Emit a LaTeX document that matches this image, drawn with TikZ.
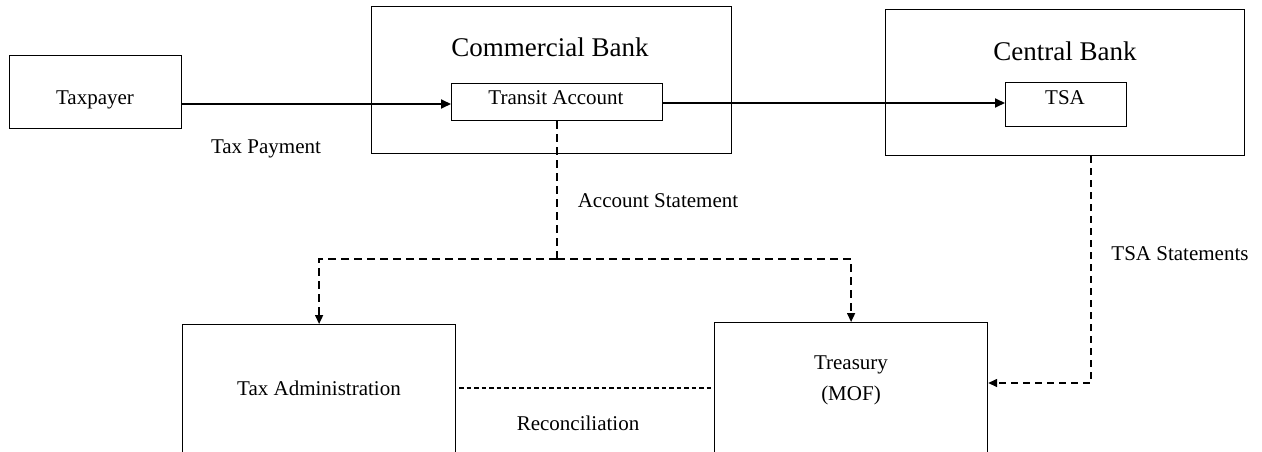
\documentclass[tikz,border=0pt]{standalone}
\usepackage{fontspec}
\setmainfont{Liberation Serif}
\usetikzlibrary{arrows.meta}
\begin{document}
\begin{tikzpicture}[x=1pt,y=-1pt,
  box/.style={draw, line width=1.2pt, inner sep=0pt, anchor=north west},
  txt/.style={inner sep=0pt, anchor=base, font=\fontsize{21}{25}\selectfont},
  ttl/.style={inner sep=0pt, anchor=base, font=\fontsize{27}{32}\selectfont},
  sol/.style={line width=1.8pt, -{Triangle[length=10pt,width=9pt]}},
  dsa/.style={line width=1.5pt, dash pattern=on 8pt off 5pt},
  dsb/.style={line width=1.3pt, dash pattern=on 4.5pt off 3pt},
  dsc/.style={line width=1.5pt, dash pattern=on 7pt off 5pt},
  tip/.style={-{Triangle[length=9pt,width=8pt]}}]
\path[use as bounding box] (0,0) rectangle (1262,452);
\clip (0,0) rectangle (1262,452);
% boxes
\node[box, minimum width=172pt, minimum height=73pt] (tp) at (9,55) {};
\node[box, minimum width=360pt, minimum height=147pt] (cbk) at (371,6) {};
\node[box, minimum width=211pt, minimum height=37pt] (ta) at (451,83) {};
\node[box, minimum width=359pt, minimum height=146pt] (cen) at (885,9) {};
\node[box, minimum width=121pt, minimum height=44pt] (tsa) at (1005,82) {};
\node[box, minimum width=273pt, minimum height=160pt] (adm) at (182,324) {};
\node[box, minimum width=273pt, minimum height=160pt] (tre) at (714,322) {};
% texts
\node[txt] (ltp) at (95,104.5) {Taxpayer};
\node[txt] (lpay) at (266,153) {Tax Payment};
\node[ttl] (lcbk) at (550,57) {Commercial Bank};
\node[txt] (lta) at (556,105) {Transit Account};
\node[ttl] (lcen) at (1065,61) {Central Bank};
\node[txt] (ltsa) at (1065,104) {TSA};
\node[txt] (lacc) at (658,207) {Account Statement};
\node[txt] (ltss) at (1180,260) {TSA Statements};
\node[txt] (ladm) at (319,395) {Tax Administration};
\node[txt] (lrec) at (578,430) {Reconciliation};
\node[txt] (ltre1) at (851,369) {Treasury};
\node[txt] (ltre2) at (851,400) {(MOF)};
% helper coordinates
\coordinate (r1) at (0,104);
\coordinate (r2) at (0,103);
\coordinate (j) at (556,259);
\coordinate (ts) at (1091,383);
\coordinate (rc) at (0,388);
% connectors
\draw[sol] (tp.east |- r1) -- (ta.west |- r1);
\draw[sol] (ta.east |- r2) -- (tsa.west |- r2);
\draw[dsa] (ta.south) -- (ta.south |- j);
\draw[dsa, tip] (ta.south |- j) -| (adm.north);
\draw[dsa, tip] (ta.south |- j) -| (tre.north);
\draw[dsc, tip] (cen.south -| ts) -- (ts) -- (tre.east |- ts);
\draw[dsb, shorten <=3pt] (adm.east |- rc) -- (tre.west |- rc);
\end{tikzpicture}
\end{document}
